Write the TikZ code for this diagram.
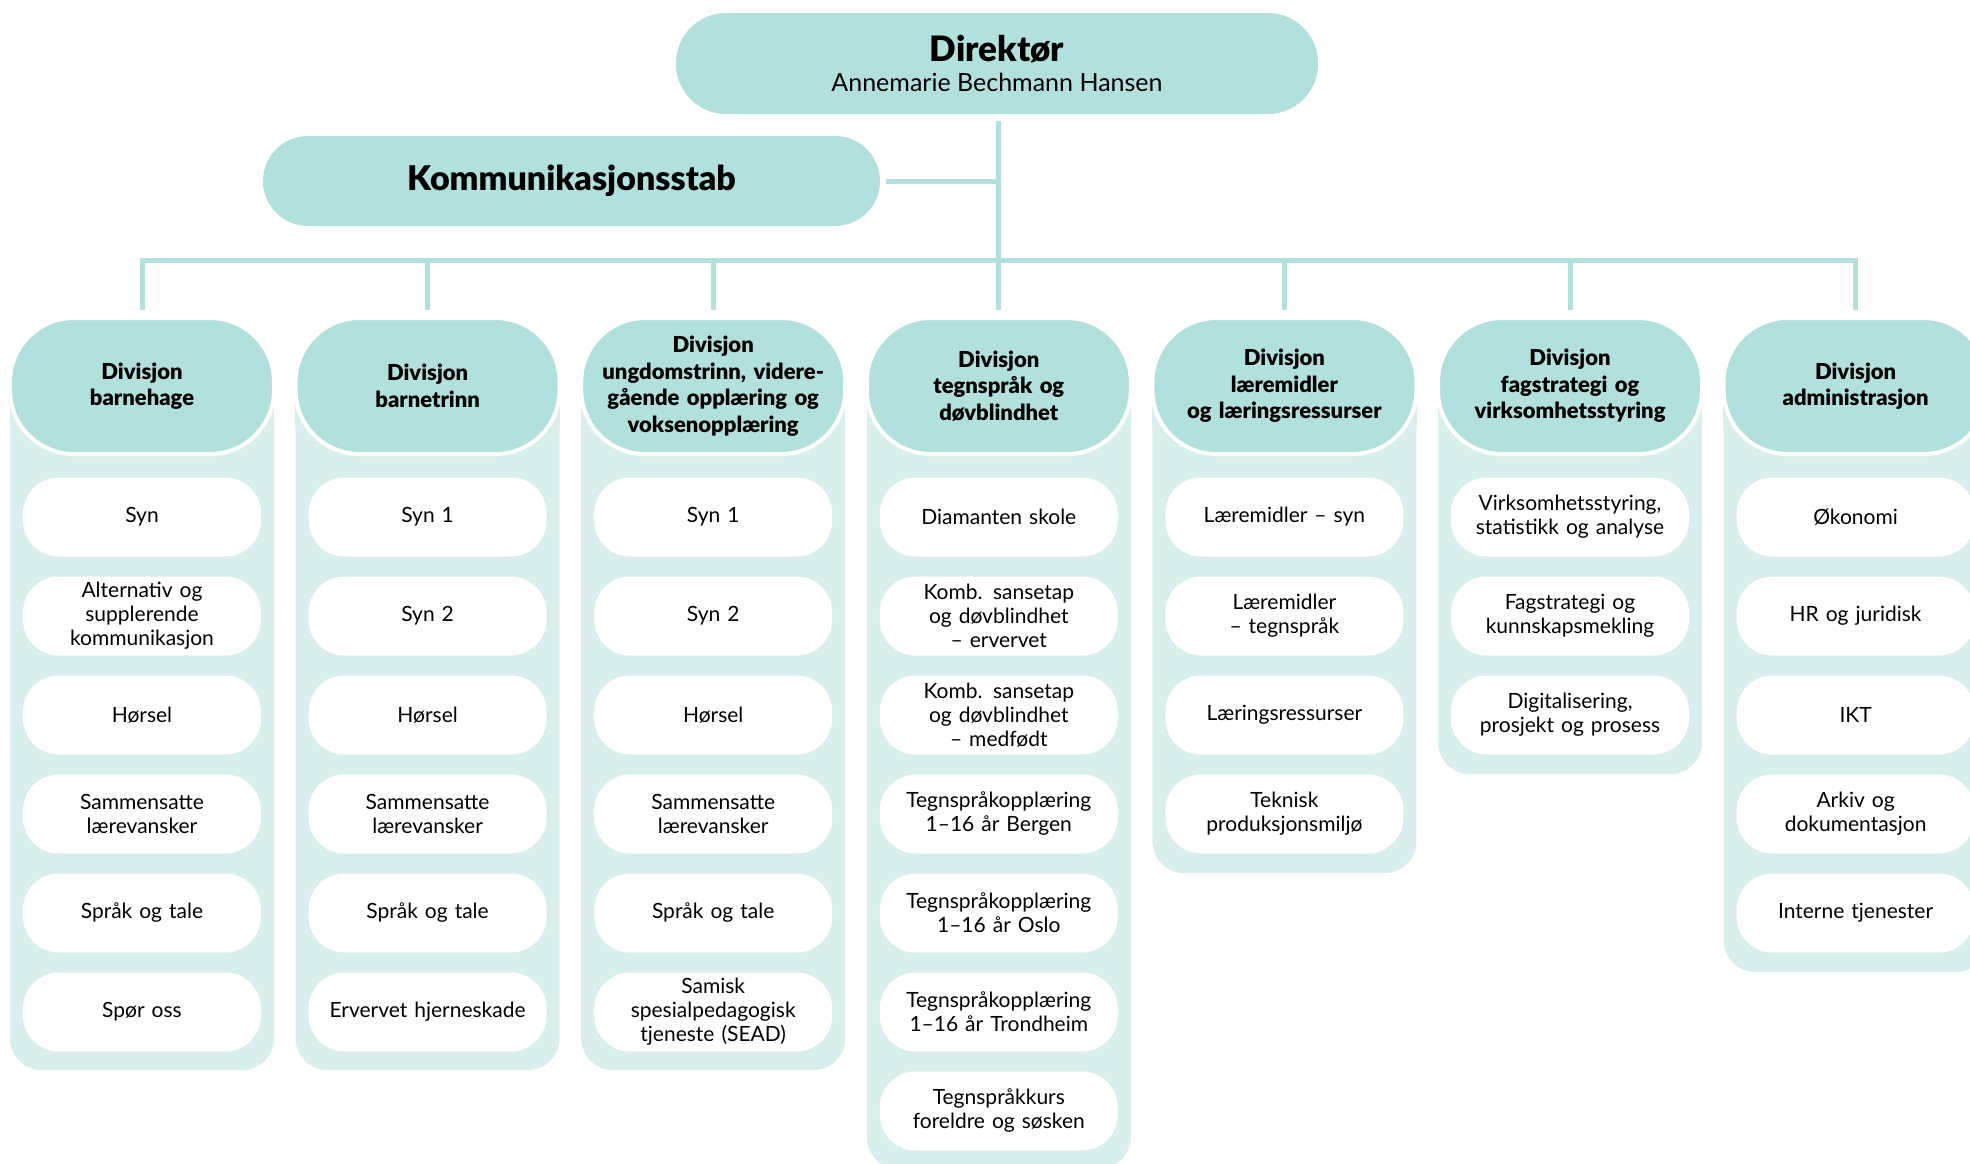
\documentclass[tikz,border=0pt]{standalone}
\usepackage{fontspec}
\setmainfont{Lato}[BoldFont={Lato Black}]
\definecolor{tealA}{HTML}{B2E0DC}
\definecolor{tealB}{HTML}{D9EFED}
\begin{document}
\begin{tikzpicture}[x=1pt,y=-1pt,
  topbox/.style={rectangle, fill=tealA, align=center, inner sep=0pt},
  head/.style={rectangle, fill=tealA, draw=white, line width=4pt, rounded corners=64pt,
    minimum width=264pt, minimum height=136pt, text width=258pt, align=center,
    font=\bfseries\fontsize{22}{26.5}\selectfont, inner sep=0pt},
  panel/.style={rectangle, fill=tealB, rounded corners=32pt, minimum width=264pt,
    anchor=north, inner sep=0pt},
  item/.style={rectangle, fill=white, rounded corners=36pt, minimum width=238pt,
    minimum height=79pt, text width=234pt, align=center,
    font=\fontsize{21}{24}\selectfont, inner sep=0pt},
  conn/.style={draw=tealA, line width=5pt}
]
\useasboundingbox (0,0) rectangle (1970,1163);

% top boxes
\node[topbox, minimum width=642pt, minimum height=101pt, rounded corners=50pt,
  font=\fontsize{25}{30}\selectfont] (dir) at (997,63.5)
  {{\fontsize{35}{35}\selectfont\bfseries Direktør}\\[0pt]Annemarie Bechmann Hansen};
\node[topbox, minimum width=617pt, minimum height=90pt, rounded corners=45pt,
  font=\bfseries\fontsize{34}{38}\selectfont] (komm) at (571.5,181) {Kommunikasjonsstab};

% panels
\node[panel, minimum height=684pt] (p1) at (142,386) {};
\node[panel, minimum height=684pt] (p2) at (427.6,386) {};
\node[panel, minimum height=684pt] (p3) at (713.2,386) {};
\node[panel, minimum height=783pt] (p4) at (998.8,386) {};
\node[panel, minimum height=487pt] (p5) at (1284.4,386) {};
\node[panel, minimum height=388pt] (p6) at (1570,386) {};
\node[panel, minimum height=586pt] (p7) at (1855.6,386) {};
\foreach \p in {p1,p2,p3,p4,p5,p6,p7}
  \fill[tealB] (\p.north west) rectangle ([yshift=-40pt]\p.north east);

% headers
\node[head] (h1) at (142,386) {Divisjon\\barnehage};
\node[head] (h2) at (427.6,386) {Divisjon\\barnetrinn};
\node[head] (h3) at (713.2,386) {Divisjon\\ungdomstrinn, videre-\\gående opplæring og\\voksenopplæring};
\node[head] (h4) at (998.8,386) {Divisjon\\tegnspråk og\\døvblindhet};
\node[head] (h5) at (1284.4,386) {Divisjon\\læremidler\\og læringsressurser};
\node[head] (h6) at (1570,386) {Divisjon\\fagstrategi og\\virksomhetsstyring};
\node[head] (h7) at (1855.6,386) {Divisjon\\administrasjon};

% connectors
\coordinate (busL) at (142,260);
\coordinate (busR) at (1855.6,260);
\draw[conn, shorten <=7pt, shorten >=6pt] (h4.north |- dir.south) -- (h4.north);
\draw[conn, shorten <=6pt] (komm.east) -- (komm.east -| h4.north);
\draw[conn, line cap=rect] (busL) -- (busR);
\foreach \h in {h1,h2,h3,h5,h6,h7}
  \draw[conn, shorten >=6pt] (\h.north |- busL) -- (\h.north);

% column 1
\node[item] (a1) at (142,517) {Syn};
\node[item] (a2) at (142,616) {Alternativ og\\supplerende\\kommunikasjon};
\node[item] (a3) at (142,715) {Hørsel};
\node[item] (a4) at (142,814) {Sammensatte\\lærevansker};
\node[item] (a5) at (142,913) {Språk og tale};
\node[item] (a6) at (142,1012) {Spør oss};
% column 2
\node[item] (b1) at (427.6,517) {Syn 1};
\node[item] (b2) at (427.6,616) {Syn 2};
\node[item] (b3) at (427.6,715) {Hørsel};
\node[item] (b4) at (427.6,814) {Sammensatte\\lærevansker};
\node[item] (b5) at (427.6,913) {Språk og tale};
\node[item] (b6) at (427.6,1012) {Ervervet hjerneskade};
% column 3
\node[item] (c1) at (713.2,517) {Syn 1};
\node[item] (c2) at (713.2,616) {Syn 2};
\node[item] (c3) at (713.2,715) {Hørsel};
\node[item] (c4) at (713.2,814) {Sammensatte\\lærevansker};
\node[item] (c5) at (713.2,913) {Språk og tale};
\node[item] (c6) at (713.2,1012) {Samisk\\spesialpedagogisk\\tjeneste (SEAD)};
% column 4
\node[item] (d1) at (998.8,517) {Diamanten skole};
\node[item] (d2) at (998.8,616) {Komb. sansetap\\og døvblindhet\\– ervervet};
\node[item] (d3) at (998.8,715) {Komb. sansetap\\og døvblindhet\\– medfødt};
\node[item] (d4) at (998.8,814) {Tegnspråkopplæring\\1–16 år Bergen};
\node[item] (d5) at (998.8,913) {Tegnspråkopplæring\\1–16 år Oslo};
\node[item] (d6) at (998.8,1012) {Tegnspråkopplæring\\1–16 år Trondheim};
\node[item] (d7) at (998.8,1111) {Tegnspråkkurs\\foreldre og søsken};
% column 5
\node[item] (e1) at (1284.4,517) {Læremidler – syn};
\node[item] (e2) at (1284.4,616) {Læremidler\\– tegnspråk};
\node[item] (e3) at (1284.4,715) {Læringsressurser};
\node[item] (e4) at (1284.4,814) {Teknisk\\produksjonsmiljø};
% column 6
\node[item] (f1) at (1570,517) {Virksomhetsstyring,\\statistikk og analyse};
\node[item] (f2) at (1570,616) {Fagstrategi og\\kunnskapsmekling};
\node[item] (f3) at (1570,715) {Digitalisering,\\prosjekt og prosess};
% column 7
\node[item] (g1) at (1855.6,517) {Økonomi};
\node[item] (g2) at (1855.6,616) {HR og juridisk};
\node[item] (g3) at (1855.6,715) {IKT};
\node[item] (g4) at (1855.6,814) {Arkiv og\\dokumentasjon};
\node[item] (g5) at (1855.6,913) {Interne tjenester};
\end{tikzpicture}
\end{document}
